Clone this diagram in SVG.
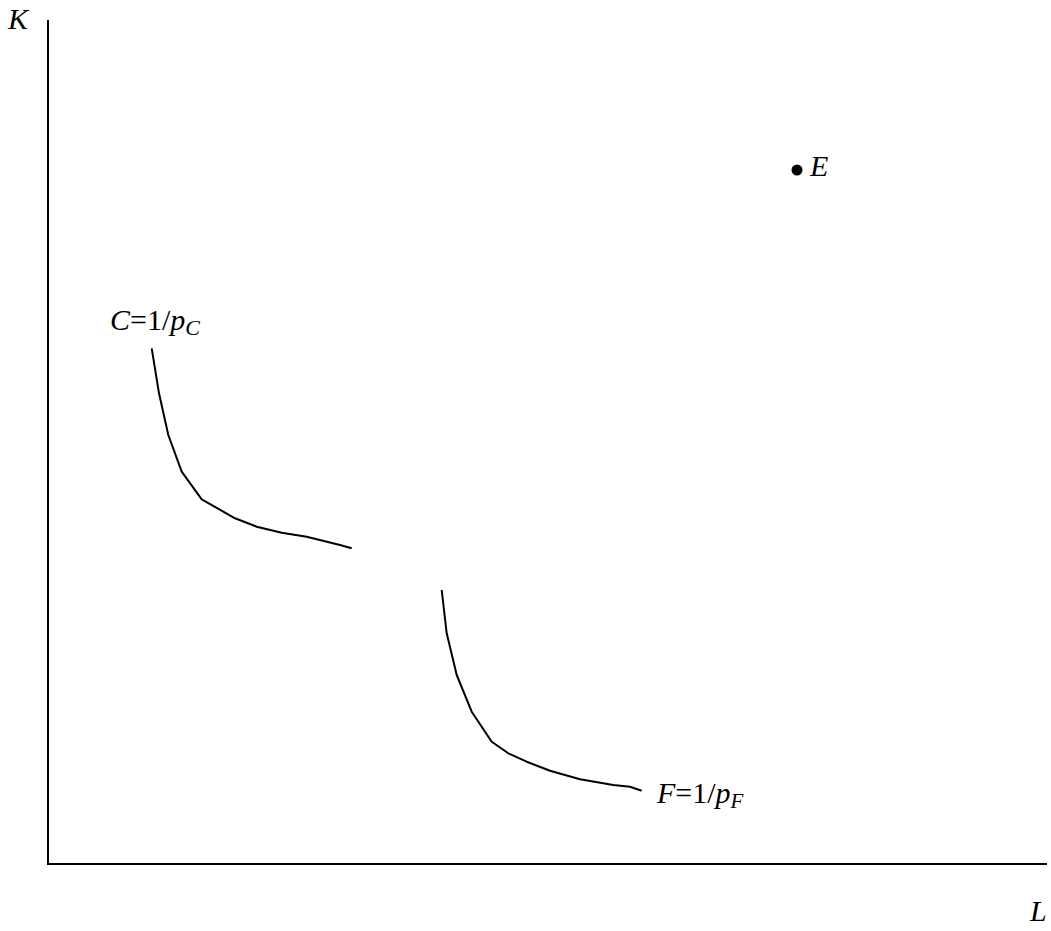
<svg xmlns="http://www.w3.org/2000/svg" width="1051" height="931" viewBox="0 0 1051 931">
<defs>
<style>
.crv{fill:none;stroke:#000;stroke-width:2;stroke-linejoin:round}
.ax{stroke:#000;stroke-width:2;fill:none}
</style>
</defs>
<rect width="1051" height="931" fill="#fff"/>
<g id="axes">
<path class="ax" d="M48 20 V864 H1047"/>
</g>
<g id="connectors">
<path id="curveC" class="crv" d="M151.7 348.3 L159 393.3 L168.3 435 L181.7 471.7 L201.7 499.3 L235 518.3 L256.7 526.7 L281.7 532.7 L306.7 536.7 L340 545 L351.7 548.3"/>
<path id="curveF" class="crv" d="M441.7 590 L446.7 633.3 L456.7 675 L471.7 711.7 L491.7 741.7 L508.3 753.3 L526.7 761.7 L550 770.7 L580 779.3 L613.3 785 L630 786.7 L641.7 790.7"/>
</g>
<g id="labelK"><text x="8" y="29" font-family="Liberation Serif, Times New Roman, serif" font-size="30" font-style="italic" fill="#000">K</text></g>
<g id="labelL"><text x="1030" y="921" font-family="Liberation Serif, Times New Roman, serif" font-size="30" font-style="italic" fill="#000">L</text></g>
<g id="nodeE">
<circle cx="797" cy="170" r="5.5" fill="#000"/>
<text x="810" y="176" font-family="Liberation Serif, Times New Roman, serif" font-size="30" font-style="italic" fill="#000">E</text>
</g>
<g id="labelC"><text x="110" y="330" font-family="Liberation Serif, Times New Roman, serif" font-size="30" fill="#000"><tspan font-style="italic">C</tspan>=1/<tspan font-style="italic">p</tspan><tspan font-style="italic" font-size="22" dy="5">C</tspan></text></g>
<g id="labelF"><text x="657" y="803" font-family="Liberation Serif, Times New Roman, serif" font-size="30" fill="#000"><tspan font-style="italic">F</tspan>=1/<tspan font-style="italic">p</tspan><tspan font-style="italic" font-size="21" dy="5">F</tspan></text></g>
</svg>
